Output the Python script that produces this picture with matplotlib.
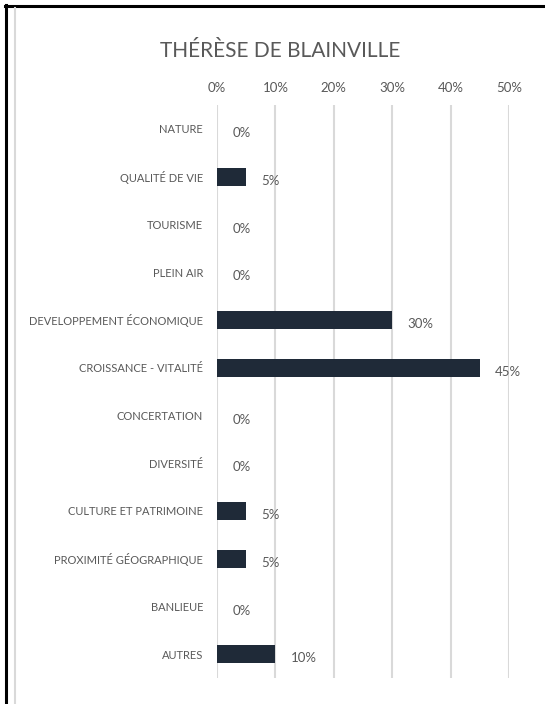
import matplotlib
matplotlib.use("Agg")
import matplotlib.pyplot as plt
from matplotlib.lines import Line2D
from matplotlib.ticker import FuncFormatter, MultipleLocator

plt.rcParams['font.family'] = ['Lato', 'DejaVu Sans']

title = "THÉRÈSE DE BLAINVILLE"
categories = ["NATURE", "QUALITÉ DE VIE", "TOURISME", "PLEIN AIR",
              "DEVELOPPEMENT ÉCONOMIQUE", "CROISSANCE - VITALITÉ",
              "CONCERTATION", "DIVERSITÉ", "CULTURE ET PATRIMOINE",
              "PROXIMITÉ GÉOGRAPHIQUE", "BANLIEUE", "AUTRES"]
percent_values = [0, 5, 0, 0, 30, 45, 0, 0, 5, 5, 0, 10]
x_ticks = [0, 10, 20, 30, 40, 50]

values = [v / 100 for v in percent_values]

bar_color = "#1f2a38"
text_color = "#595959"
grid_color = "#d9d9d9"

W, H = 545, 704
fig = plt.figure(figsize=(W / 100, H / 100), dpi=100)
ax = fig.add_axes([217 / W, 1 - 678 / H, (509 - 217) / W, (678 - 105) / H])

y = list(range(len(categories)))
ax.barh(y, values, height=0.38, color=bar_color, zorder=3)
ax.set_ylim(len(categories) - 0.5, -0.5)
ax.set_xlim(0, 0.5)
ax.set_xticks([t / 100 for t in x_ticks])
ax.xaxis.set_major_formatter(FuncFormatter(lambda v, p: f"{v*100:.0f}%"))
ax.xaxis.tick_top()
ax.tick_params(axis='x', length=0, pad=8, labelsize=9.5, labelcolor=text_color)
ax.set_yticks(y)
ax.set_yticklabels(categories)
ax.tick_params(axis='y', length=0, pad=10, labelsize=8.0, labelcolor=text_color)
ax.grid(axis='x', color=grid_color, linewidth=1.5, zorder=0)
for s in ax.spines.values():
    s.set_visible(False)

for yi, v in zip(y, values):
    ax.annotate(f"{v*100:.0f}%", xy=(v, yi), xytext=(11, -3),
                textcoords='offset points', ha='left', va='center',
                fontsize=9.5, color=text_color)

fig.text(280 / W, 1 - 51 / H, title, ha='center', va='center',
         fontsize=15, color=text_color)

# frame decorations
fig.add_artist(Line2D([6 / W, 6 / W], [0, 1 - 5 / H], color='black', linewidth=2.2,
                      transform=fig.transFigure))
fig.add_artist(Line2D([5 / W, 1], [1 - 6 / H, 1 - 6 / H], color='black', linewidth=2.2,
                      transform=fig.transFigure))
fig.add_artist(Line2D([14.5 / W, 14.5 / W], [0, 1 - 8 / H], color='#d9d9d9', linewidth=1.5,
                      transform=fig.transFigure))

fig.savefig("out.png", dpi=100)
